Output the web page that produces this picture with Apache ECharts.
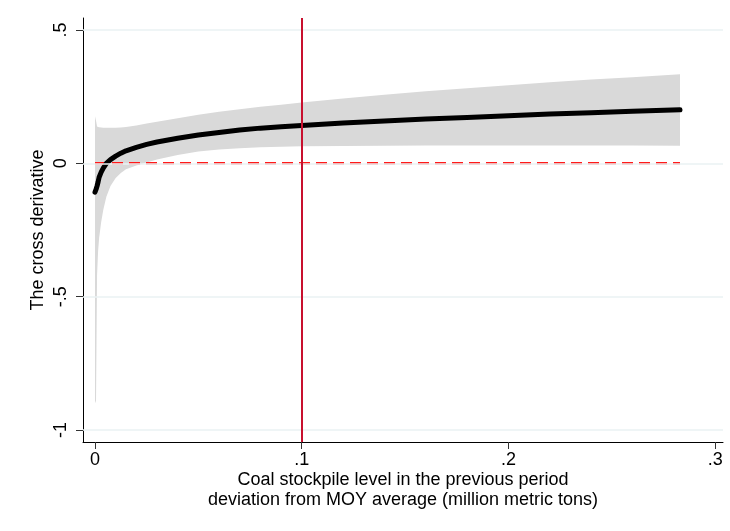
<!DOCTYPE html>
<html><head><meta charset="utf-8">
<script src="https://cdn.jsdelivr.net/npm/echarts@6/dist/echarts.min.js"></script>
<style>html,body{margin:0;padding:0;background:#fff}#c{width:730px;height:531px}</style>
</head><body><div id="c"></div>
<script>
// Coal stockpile deviation (million metric tons)
const xVals = [0, 0.0005, 0.001, 0.0015, 0.002, 0.003, 0.004, 0.0055, 0.0075, 0.01, 0.0125, 0.015, 0.02, 0.025, 0.03, 0.04, 0.05, 0.06, 0.07, 0.08, 0.09, 0.1, 0.12, 0.14, 0.16, 0.18, 0.2, 0.22, 0.24, 0.26, 0.283];
// Cross derivative point estimate
const effect = [-0.108, -0.098, -0.085, -0.070, -0.052, -0.033, -0.018, 0.000, 0.014, 0.027, 0.038, 0.047, 0.060, 0.071, 0.080, 0.094, 0.106, 0.116, 0.125, 0.132, 0.137, 0.142, 0.151, 0.159, 0.166, 0.172, 0.178, 0.185, 0.190, 0.195, 0.201];
// Confidence band
const upperCI = [0.177, 0.160, 0.138, 0.136, 0.135, 0.134, 0.133, 0.133, 0.133, 0.133, 0.134, 0.136, 0.142, 0.149, 0.156, 0.169, 0.182, 0.193, 0.203, 0.212, 0.220, 0.228, 0.243, 0.257, 0.270, 0.282, 0.293, 0.304, 0.314, 0.323, 0.334];
const lowerCI = [-0.90, -0.89, -0.42, -0.33, -0.28, -0.22, -0.175, -0.125, -0.085, -0.055, -0.036, -0.022, -0.008, 0.003, 0.014, 0.031, 0.044, 0.052, 0.057, 0.060, 0.062, 0.064, 0.065, 0.066, 0.067, 0.067, 0.067, 0.067, 0.067, 0.067, 0.066];
const xTicks = [0, 0.1, 0.2, 0.3];
const yTicks = [-1, -0.5, 0, 0.5];
const refX = 0.1;
const zeroY = 0;

const FONT = 'Liberation Sans, Arial, sans-serif';
const fmt = v => v === 0 ? '0' : String(Math.round(v * 10) / 10).replace('0.', '.');

const chart = echarts.init(document.getElementById('c'), null, {renderer: 'canvas'});
chart.setOption({
  animation: false,
  backgroundColor: '#ffffff',
  grid: {left: 83, right: 7, top: 18, bottom: 89, containLabel: false},
  xAxis: {
    type: 'value', min: -0.0058, max: 0.3038,
    axisLine: {show: true, onZero: false, lineStyle: {color: '#000', width: 1}},
    axisTick: {show: true, length: 7, lineStyle: {color: '#333'}, customValues: xTicks},
    axisLabel: {customValues: xTicks, formatter: fmt, color: '#000', fontSize: 18, fontFamily: FONT, margin: 9},
    splitLine: {show: false},
    name: 'Coal stockpile level in the previous period\ndeviation from MOY average (million metric tons)',
    nameLocation: 'middle', nameGap: 28, nameMoveOverlap: false,
    nameTextStyle: {color: '#000', fontSize: 18, fontFamily: FONT, lineHeight: 20}
  },
  yAxis: {
    type: 'value', min: -1.045, max: 0.545,
    axisLine: {show: true, onZero: false, lineStyle: {color: '#000', width: 1}},
    axisTick: {show: true, length: 7, lineStyle: {color: '#333'}, customValues: yTicks},
    axisLabel: {customValues: yTicks, formatter: fmt, color: '#000', fontSize: 18, fontFamily: FONT, rotate: 90, margin: 13},
    splitLine: {show: false},
    name: 'The cross derivative',
    nameLocation: 'middle', nameGap: 36, nameMoveOverlap: false,
    nameTextStyle: {color: '#000', fontSize: 18, fontFamily: FONT}
  },
  series: [
    {
      type: 'line', data: [], silent: true, z: 0,
      markLine: {
        silent: true, symbol: ['none', 'none'], label: {show: false},
        lineStyle: {color: '#eaf2f3', width: 1.5, type: 'solid'},
        data: yTicks.map(v => ({yAxis: v}))
      }
    },
    {
      type: 'custom', silent: true, z: 1, clip: true,
      data: xVals.map((x, i) => [x, upperCI[i], lowerCI[i]]),
      encode: {x: 0, y: [1, 2]},
      renderItem: function (params, api) {
        if (params.dataIndex !== 0) return null;
        const pts = [];
        for (let i = 0; i < xVals.length; i++) pts.push(api.coord([xVals[i], upperCI[i]]));
        for (let i = xVals.length - 1; i >= 0; i--) pts.push(api.coord([xVals[i], lowerCI[i]]));
        return {type: 'polygon', shape: {points: pts}, style: {fill: '#d9d9d9'}};
      }
    },
    {
      type: 'line', silent: true, z: 2, symbol: 'none',
      data: [[xVals[0], zeroY], [xVals[xVals.length - 1], zeroY]],
      lineStyle: {color: '#ff1a1a', width: 2.5, type: [11, 6]},
      markLine: {
        silent: true, symbol: ['none', 'none'], label: {show: false},
        lineStyle: {color: '#c8102e', width: 2, type: 'solid'},
        data: [{xAxis: refX}]
      }
    },
    {
      type: 'line', silent: true, z: 3, symbol: 'none',
      data: xVals.map((x, i) => [x, effect[i]]),
      lineStyle: {color: '#000', width: 5, cap: 'round', join: 'round'}
    }
  ]
});
</script>
</body></html>
